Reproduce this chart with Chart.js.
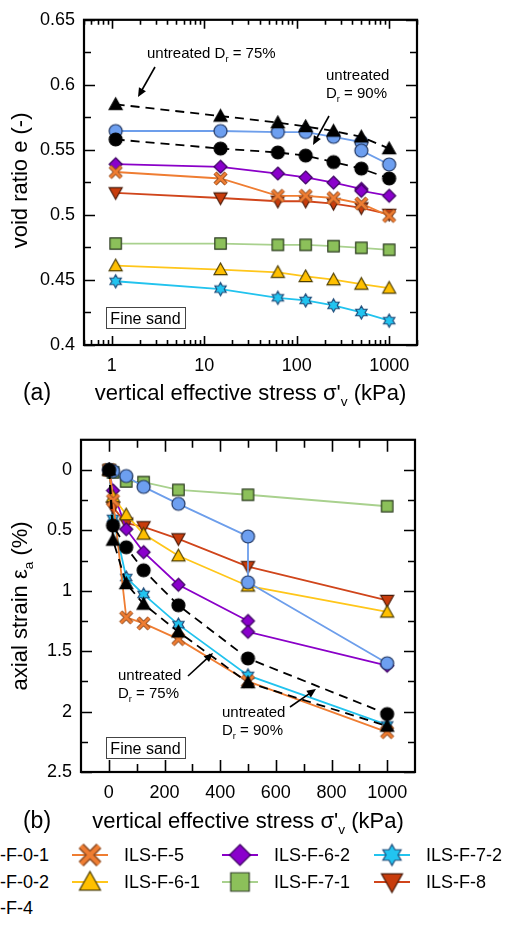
<!DOCTYPE html>
<html>
<head>
<meta charset="utf-8">
<script src="https://cdn.jsdelivr.net/npm/chart.js@4.4.1/dist/chart.umd.min.js"></script>
<style>
html, body { margin:0; padding:0; background:#fff; width:511px; height:926px; overflow:hidden; }
#wrapA { position:absolute; left:0; top:0; width:511px; height:420px; }
#wrapB { position:absolute; left:0; top:420px; width:511px; height:420px; }
#legend { position:absolute; left:0; top:840px; width:511px; height:86px; }
.item { position:absolute; display:flex; align-items:center; height:26px; white-space:nowrap;
        font:18px "Liberation Sans", Arial, Helvetica, sans-serif; color:#000; }
.item span { margin-left:14px; }
</style>
</head>
<body>
<div id="wrapA"><canvas id="chartA"></canvas></div>
<div id="wrapB"><canvas id="chartB"></canvas></div>
<div id="legend"></div>
<script>
const FONT = '"Liberation Sans", Arial, Helvetica, sans-serif';

// vertical effective stress (kPa)
const stress = [1.1, 15, 62.5, 125, 250, 500, 1000];
const stressTwice500 = [1.1, 15, 62.5, 125, 250, 500, 500, 1000];

// (a) void ratio e
const eF01 = [0.585, 0.576, 0.571, 0.568, 0.5645, 0.560, 0.551];
const eF02 = [0.558, 0.551, 0.548, 0.5456, 0.5406, 0.5356, 0.528];
const eF4  = [0.5645, 0.5645, 0.5637, 0.5637, 0.560, 0.556, 0.5494, 0.5388];
const eF5  = [0.533, 0.528, 0.5147, 0.5147, 0.513, 0.5087, 0.4992];
const eF61 = [0.461, 0.458, 0.4559, 0.4527, 0.4502, 0.4468, 0.4438];
const eF71 = [0.478, 0.478, 0.477, 0.477, 0.476, 0.4747, 0.4732];
const eF62 = [0.539, 0.537, 0.5318, 0.5288, 0.5248, 0.520, 0.5185, 0.5147];
const eF8  = [0.517, 0.513, 0.5105, 0.5105, 0.5087, 0.5054, 0.5004];
const eF72 = [0.449, 0.443, 0.4363, 0.4343, 0.4305, 0.425, 0.4187];

// (b) axial strain (%)
const sF01 = [0, 0.58, 0.94, 1.11, 1.34, 1.76, 2.12];
const sF02 = [0, 0.46, 0.64, 0.83, 1.12, 1.56, 2.02];
const sF4  = [0, 0.01, 0.05, 0.14, 0.28, 0.55, 0.93, 1.60];
const sF5  = [0, 0.25, 1.22, 1.27, 1.40, 1.75, 2.17];
const sF61 = [0, 0.22, 0.37, 0.53, 0.71, 0.96, 1.175];
const sF71 = [0, 0.02, 0.095, 0.10, 0.165, 0.205, 0.30];
const sF62 = [0, 0.17, 0.49, 0.68, 0.95, 1.25, 1.34, 1.62];
const sF8  = [0, 0.31, 0.44, 0.47, 0.57, 0.80, 1.08];
const sF72 = [0, 0.40, 0.89, 1.03, 1.28, 1.70, 2.11];

// axis ticks
const xTicksA = [1, 10, 100, 1000];
const xTickLabelsA = ['1', '10', '100', '1000'];
const yTicksA = [0.4, 0.45, 0.5, 0.55, 0.6, 0.65];
const yTickLabelsA = ['0.4', '0.45', '0.5', '0.55', '0.6', '0.65'];
const xTicksB = [0, 200, 400, 600, 800, 1000];
const xTickLabelsB = ['0', '200', '400', '600', '800', '1000'];
const yTicksB = [0, 0.5, 1, 1.5, 2, 2.5];
const yTickLabelsB = ['0', '0.5', '1', '1.5', '2', '2.5'];

// series list (legend order)
const series = [
  { name: 'ILS-F-0-1', x: stress,         e: eF01, s: sF01 },
  { name: 'ILS-F-0-2', x: stress,         e: eF02, s: sF02 },
  { name: 'ILS-F-4',   x: stressTwice500, e: eF4,  s: sF4 },
  { name: 'ILS-F-5',   x: stress,         e: eF5,  s: sF5 },
  { name: 'ILS-F-6-1', x: stress,         e: eF61, s: sF61 },
  { name: 'ILS-F-7-1', x: stress,         e: eF71, s: sF71 },
  { name: 'ILS-F-6-2', x: stressTwice500, e: eF62, s: sF62 },
  { name: 'ILS-F-8',   x: stress,         e: eF8,  s: sF8 },
  { name: 'ILS-F-7-2', x: stress,         e: eF72, s: sF72 }
];

// look of every series
const looks = {
  'ILS-F-0-1': { shape: 'up',      fill: '#000000', edge: '#000000', line: '#000000', dash: [9, 6] },
  'ILS-F-0-2': { shape: 'circle',  fill: '#000000', edge: '#000000', line: '#000000', dash: [9, 6] },
  'ILS-F-4':   { shape: 'circle',  fill: '#6d9ff0', edge: '#1f3560', line: '#6d9eeb' },
  'ILS-F-5':   { shape: 'x',       fill: '#ef7d32', edge: '#8a4a22', line: '#ef7d32' },
  'ILS-F-6-1': { shape: 'up',      fill: '#ffc000', edge: '#4d3d00', line: '#ffc61a' },
  'ILS-F-7-1': { shape: 'square',  fill: '#8cc05a', edge: '#2b3a20', line: '#a9d18e' },
  'ILS-F-6-2': { shape: 'diamond', fill: '#8a00cc', edge: '#3c0060', line: '#8a00c8' },
  'ILS-F-8':   { shape: 'down',    fill: '#c83c0c', edge: '#4a1a08', line: '#d0451b' },
  'ILS-F-7-2': { shape: 'star',    fill: '#22c4f0', edge: '#1d4a78', line: '#22c3ee' }
};

function makeMarker(shape, size, fill, edge) {
  const pad = 3;
  const c = document.createElement('canvas');
  c.width = c.height = Math.ceil(size + pad * 2);
  const g = c.getContext('2d');
  const m = c.width / 2, r = size / 2;
  g.fillStyle = fill;
  g.strokeStyle = edge;
  g.lineWidth = 1.2;
  g.beginPath();
  if (shape === 'circle') {
    g.arc(m, m, r, 0, Math.PI * 2);
  } else if (shape === 'square') {
    g.rect(m - r * 0.88, m - r * 0.88, r * 1.76, r * 1.76);
  } else if (shape === 'diamond') {
    g.moveTo(m, m - r); g.lineTo(m + r, m); g.lineTo(m, m + r); g.lineTo(m - r, m); g.closePath();
  } else if (shape === 'up') {
    g.moveTo(m, m - r); g.lineTo(m + r, m + r * 0.78); g.lineTo(m - r, m + r * 0.78); g.closePath();
  } else if (shape === 'down') {
    g.moveTo(m, m + r); g.lineTo(m + r, m - r * 0.78); g.lineTo(m - r, m - r * 0.78); g.closePath();
  } else if (shape === 'star') {
    for (let k = 0; k < 12; k++) {
      const ang = -Math.PI / 2 + k * Math.PI / 6;
      const rad = k % 2 === 0 ? r : r * 0.577;
      const px = m + rad * Math.cos(ang), py = m + rad * Math.sin(ang);
      if (k === 0) g.moveTo(px, py); else g.lineTo(px, py);
    }
    g.closePath();
  } else if (shape === 'x') {
    const d = r * 0.85;
    g.moveTo(m - d, m - d); g.lineTo(m + d, m + d);
    g.moveTo(m + d, m - d); g.lineTo(m - d, m + d);
    g.lineWidth = size * 0.34; g.stroke();
    g.strokeStyle = fill; g.lineWidth = size * 0.2; g.stroke();
    return c;
  }
  g.fill();
  g.stroke();
  return c;
}

// text with subscripts: parts = [[text, isSub], ...], y is baseline
function richText(ctx, parts, x, y, size, align) {
  const widths = parts.map(([t, sub]) => {
    ctx.font = (sub ? size * 0.62 : size) + 'px ' + FONT;
    return ctx.measureText(t).width;
  });
  const total = widths.reduce((a, b) => a + b, 0);
  let cx = align === 'center' ? x - total / 2 : (align === 'right' ? x - total : x);
  ctx.textAlign = 'left';
  ctx.textBaseline = 'alphabetic';
  ctx.fillStyle = '#000';
  parts.forEach(([t, sub], i) => {
    ctx.font = (sub ? size * 0.62 : size) + 'px ' + FONT;
    ctx.fillText(t, cx, y + (sub ? size * 0.25 : 0));
    cx += widths[i];
  });
}

function arrow(ctx, x1, y1, x2, y2) {
  const a = Math.atan2(y2 - y1, x2 - x1);
  const hl = 9, hw = 4;
  ctx.save();
  ctx.strokeStyle = '#000'; ctx.fillStyle = '#000'; ctx.lineWidth = 1.6;
  ctx.beginPath();
  ctx.moveTo(x1, y1);
  ctx.lineTo(x2 - hl * 0.8 * Math.cos(a), y2 - hl * 0.8 * Math.sin(a));
  ctx.stroke();
  ctx.beginPath();
  ctx.moveTo(x2, y2);
  ctx.lineTo(x2 - hl * Math.cos(a) + hw * Math.sin(a), y2 - hl * Math.sin(a) - hw * Math.cos(a));
  ctx.lineTo(x2 - hl * Math.cos(a) - hw * Math.sin(a), y2 - hl * Math.sin(a) + hw * Math.cos(a));
  ctx.closePath();
  ctx.fill();
  ctx.restore();
}

function sandBox(ctx, x, y, w, h) {
  ctx.save();
  ctx.fillStyle = '#fff';
  ctx.strokeStyle = '#444';
  ctx.lineWidth = 1;
  ctx.fillRect(x, y, w, h);
  ctx.strokeRect(x + 0.5, y + 0.5, w, h);
  richText(ctx, [['Fine sand']], x + w / 2, y + h / 2 + 6, 16, 'center');
  ctx.restore();
}

// frame and inward tick marks drawn through the scales
function frameTicks(xMarks, yMarks) {
  return {
    id: 'frameTicks',
    beforeDatasetsDraw(chart) {
      const { ctx, chartArea: a, scales: { x, y } } = chart;
      ctx.save();
      ctx.strokeStyle = '#000';
      ctx.lineWidth = 1.6;
      ctx.beginPath();
      xMarks.forEach(([v, len]) => {
        const p = Math.round(x.getPixelForValue(v)) + 0.5;
        ctx.moveTo(p, a.bottom); ctx.lineTo(p, a.bottom - len);
        ctx.moveTo(p, a.top); ctx.lineTo(p, a.top + len);
      });
      yMarks.forEach(([v, len]) => {
        const p = Math.round(y.getPixelForValue(v)) + 0.5;
        ctx.moveTo(a.left, p); ctx.lineTo(a.left + len, p);
        ctx.moveTo(a.right, p); ctx.lineTo(a.right - len, p);
      });
      ctx.stroke();
      ctx.lineWidth = 2.2;
      ctx.strokeRect(a.left, a.top, a.right - a.left, a.bottom - a.top);
      ctx.restore();
    }
  };
}

function decor(drawFn) {
  return { id: 'decor', afterDraw(chart) { const ctx = chart.ctx; ctx.save(); drawFn(ctx, chart); ctx.restore(); } };
}

function makeDatasets(field, size) {
  return series.map(sr => {
    const lk = looks[sr.name];
    return {
      label: sr.name,
      data: sr.x.map((xv, i) => ({ x: xv, y: sr[field][i] })),
      borderColor: lk.line,
      backgroundColor: lk.fill,
      borderWidth: 1.8,
      borderDash: lk.dash || [],
      pointStyle: makeMarker(lk.shape, size, lk.fill, lk.edge),
      pointRadius: 6,
      tension: 0
    };
  });
}

Chart.defaults.font.family = FONT;
Chart.defaults.color = '#000';

const tickFont = { size: 18, family: FONT };

// minor / major tick marks
const logMarks = [];
[0.1, 1, 10, 100, 1000].forEach(d => {
  for (let k = 1; k <= 9; k++) {
    const v = d * k;
    if (v >= 0.5 && v <= 2000) logMarks.push([v, k === 1 ? 9 : 5]);
  }
});
const yMarksA = [];
for (let i = 0; i <= 10; i++) yMarksA.push([0.4 + i * 0.025, i % 2 === 0 ? 11 : 7]);
const xMarksB = [];
for (let v = 0; v <= 1000; v += 100) xMarksB.push([v, v % 200 === 0 ? 12 : 8]);
const yMarksB = [];
for (let i = 0; i <= 10; i++) yMarksB.push([i * 0.25, i % 2 === 0 ? 11 : 7]);

function fixTicks(values) {
  return scale => { scale.ticks = values.map(v => ({ value: v })); };
}

// ---------- chart (a) ----------
new Chart(document.getElementById('chartA'), {
  type: 'line',
  data: { datasets: makeDatasets('e', 13) },
  options: {
    responsive: true, maintainAspectRatio: false, animation: false, events: [],
    layout: { padding: { top: 13, right: 94, left: 0, bottom: 0 } },
    plugins: { legend: { display: false }, tooltip: { enabled: false } },
    scales: {
      x: {
        type: 'logarithmic', min: 0.5, max: 2000, bounds: 'data',
        grid: { display: false, drawTicks: false }, border: { display: false },
        afterBuildTicks: fixTicks(xTicksA),
        afterFit: s => { s.height = 75; },
        ticks: { font: tickFont, padding: 10, autoSkip: false, maxRotation: 0,
                 callback: (v, i) => xTickLabelsA[i] }
      },
      y: {
        min: 0.4, max: 0.65,
        grid: { display: false, drawTicks: false }, border: { display: false },
        afterBuildTicks: fixTicks(yTicksA),
        afterFit: s => { s.width = 84; },
        ticks: { font: tickFont, padding: 9, autoSkip: false,
                 callback: (v, i) => yTickLabelsA[i] }
      }
    }
  },
  plugins: [frameTicks(logMarks, yMarksA), decor((ctx, chart) => {
    const a = chart.chartArea;
    // axis titles
    richText(ctx, [['(a)']], 37, 400, 23, 'center');
    richText(ctx, [['vertical effective stress σ\''], ['v', true], [' (kPa)']], (a.left + a.right) / 2, 400, 22, 'center');
    ctx.save();
    ctx.translate(19, (a.top + a.bottom) / 2 - 2);
    ctx.rotate(-Math.PI / 2);
    richText(ctx, [['void ratio e (-)']], 0, 8, 22, 'center');
    ctx.restore();
    // annotations
    richText(ctx, [['untreated D'], ['r', true], [' = 75%']], 147, 58, 15, 'left');
    arrow(ctx, 155, 67, 138, 97);
    richText(ctx, [['untreated']], 326, 80, 15, 'left');
    richText(ctx, [['D'], ['r', true], [' = 90%']], 326, 98, 15, 'left');
    arrow(ctx, 329, 116, 313, 145);
    sandBox(ctx, 106, 307, 79, 21);
  })]
});

// ---------- chart (b) ----------
new Chart(document.getElementById('chartB'), {
  type: 'line',
  data: { datasets: makeDatasets('s', 13) },
  options: {
    responsive: true, maintainAspectRatio: false, animation: false, events: [],
    layout: { padding: { top: 16, right: 96, left: 0, bottom: 0 } },
    plugins: { legend: { display: false }, tooltip: { enabled: false } },
    scales: {
      x: {
        type: 'linear', min: -100, max: 1100,
        grid: { display: false, drawTicks: false }, border: { display: false },
        afterBuildTicks: fixTicks(xTicksB),
        afterFit: s => { s.height = 68; },
        ticks: { font: tickFont, padding: 10, autoSkip: false, maxRotation: 0,
                 callback: (v, i) => xTickLabelsB[i] }
      },
      y: {
        min: -0.25, max: 2.5, reverse: true,
        grid: { display: false, drawTicks: false }, border: { display: false },
        afterBuildTicks: fixTicks(yTicksB),
        afterFit: s => { s.width = 81; },
        ticks: { font: tickFont, padding: 9, autoSkip: false,
                 callback: (v, i) => yTickLabelsB[i] }
      }
    }
  },
  plugins: [frameTicks(xMarksB, yMarksB), decor((ctx, chart) => {
    const a = chart.chartArea;
    richText(ctx, [['(b)']], 37, 408, 23, 'center');
    richText(ctx, [['vertical effective stress σ\''], ['v', true], [' (kPa)']], (a.left + a.right) / 2, 408, 22, 'center');
    ctx.save();
    ctx.translate(19, (a.top + a.bottom) / 2);
    ctx.rotate(-Math.PI / 2);
    richText(ctx, [['axial strain ε'], ['a', true], [' (%)']], 0, 8, 22, 'center');
    ctx.restore();
    // annotations (canvas top is page y 420)
    richText(ctx, [['untreated']], 118, 260, 15, 'left');
    richText(ctx, [['D'], ['r', true], [' = 75%']], 118, 278, 15, 'left');
    arrow(ctx, 188, 256, 213, 233);
    richText(ctx, [['untreated']], 222, 297, 15, 'left');
    richText(ctx, [['D'], ['r', true], [' = 90%']], 222, 315, 15, 'left');
    arrow(ctx, 290, 287, 316, 269);
    sandBox(ctx, 106, 317, 79, 21);
  })]
});

// ---------- legend ----------
const legendSlots = {
  'ILS-F-0-1': [-81, 15], 'ILS-F-0-2': [-81, 42], 'ILS-F-4': [-81, 68],
  'ILS-F-5':   [70, 15],  'ILS-F-6-1': [70, 42],
  'ILS-F-6-2': [220, 15], 'ILS-F-7-1': [220, 42],
  'ILS-F-7-2': [372, 15], 'ILS-F-8':   [372, 42]
};
const legendBox = document.getElementById('legend');
series.forEach(sr => {
  const lk = looks[sr.name];
  const [lx, ly] = legendSlots[sr.name];
  const item = document.createElement('div');
  item.className = 'item';
  item.style.left = lx + 'px';
  item.style.top = (ly - 13) + 'px';
  const c = document.createElement('canvas');
  c.width = 40; c.height = 26;
  const g = c.getContext('2d');
  g.strokeStyle = lk.line; g.lineWidth = 2.2;
  if (lk.dash) g.setLineDash(lk.dash);
  g.beginPath(); g.moveTo(2, 13); g.lineTo(38, 13); g.stroke();
  const mk = makeMarker(lk.shape, 21, lk.fill, lk.edge);
  g.drawImage(mk, 20 - mk.width / 2, 13 - mk.height / 2);
  const t = document.createElement('span');
  t.textContent = sr.name;
  item.appendChild(c);
  item.appendChild(t);
  legendBox.appendChild(item);
});
</script>
</body>
</html>
